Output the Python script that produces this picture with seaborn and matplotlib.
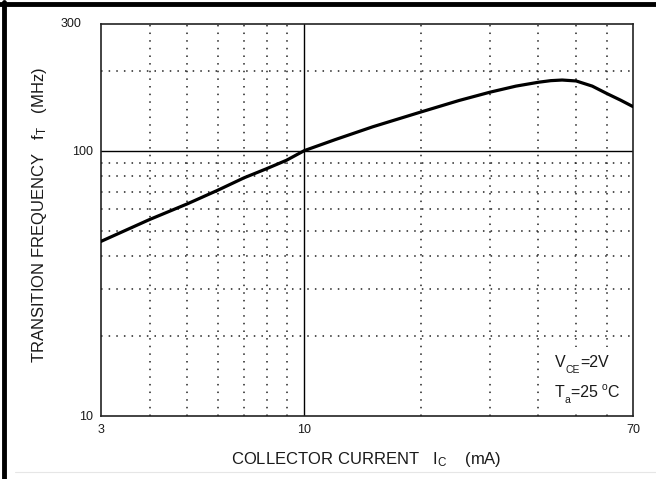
import matplotlib
matplotlib.use("Agg")
import matplotlib.pyplot as plt
from matplotlib.lines import Line2D
from matplotlib.patches import Rectangle
import seaborn as sns
import pandas as pd

# Data
collector_current_mA = [3, 4, 5, 6, 7, 8, 9, 10, 12, 15, 20, 25, 30, 35, 40, 43, 46, 50, 55, 60, 65, 70]
transition_freq_MHz = [45.5, 55, 63, 71, 79, 85.5, 92, 100, 110, 123, 140, 154.5, 166, 175, 181, 183.5, 184.5, 183, 175, 164, 155, 146.5]

x_ticks = [3, 10, 70]
x_tick_labels = ["3", "10", "70"]
y_ticks = [10, 100]
y_tick_labels = ["10", "100"]
y_top_label = "300"
x_minor_grid = [4, 5, 6, 7, 8, 9, 20, 30, 40, 50, 60]
y_minor_grid = [20, 30, 40, 50, 60, 70, 80, 90, 200]

df = pd.DataFrame({"Ic": collector_current_mA, "fT": transition_freq_MHz})

sns.set_theme(style="white")
plt.rcParams["font.family"] = ["Liberation Sans", "DejaVu Sans"]
plt.rcParams["mathtext.fontset"] = "custom"
plt.rcParams["mathtext.rm"] = "Liberation Sans"
plt.rcParams["mathtext.it"] = "Liberation Sans"

TXT = "#1a1a1a"

fig = plt.figure(figsize=(6.56, 4.79), dpi=100)
ax = fig.add_axes([101 / 656, 1 - 416 / 479, 532 / 656, 392 / 479])

ax.set_xscale("log")
ax.set_yscale("log")
ax.set_xlim(3, 70)
ax.set_ylim(10, 300)

for xv in x_minor_grid:
    ax.axvline(xv, color="#222222", lw=1.1, ls=(0, (1, 4)), zorder=1)
for yv in y_minor_grid:
    ax.axhline(yv, color="#222222", lw=1.1, ls=(0, (1, 4)), zorder=1)
ax.axvline(10, color="black", lw=1.0, zorder=1)
ax.axhline(100, color="black", lw=1.0, zorder=1)

# white box behind the condition text (covers the grid there)
ax.add_patch(Rectangle((0.835, 0.009), 0.165, 0.168, transform=ax.transAxes,
                       facecolor="white", edgecolor="none", zorder=2))

sns.lineplot(data=df, x="Ic", y="fT", ax=ax, color="black", lw=2.3, zorder=3)

ax.set_xticks(x_ticks)
ax.set_xticklabels(x_tick_labels)
ax.set_yticks(y_ticks)
ax.set_yticklabels(y_tick_labels)
ax.minorticks_off()
ax.tick_params(axis="both", length=0, labelsize=9, colors=TXT)
ax.tick_params(axis="x", pad=6)
ax.tick_params(axis="y", pad=6)
ax.text(-0.036, 1.0, y_top_label, transform=ax.transAxes, ha="right", va="center",
        fontsize=9, color=TXT)

for s in ax.spines.values():
    s.set_color("#222222")
    s.set_linewidth(1.2)

ax.set_xlabel(r"COLLECTOR CURRENT   I$_\mathregular{C}$    (mA)", fontsize=12, color=TXT)
ax.set_ylabel(r"TRANSITION FREQUENCY   f$_\mathregular{T}$   (MHz)", fontsize=12, color=TXT)
ax.xaxis.set_label_coords(0.498, -0.088)
ax.yaxis.set_label_coords(-0.098, 0.513)

FS = 11.5
SFS = 7.5


def chain(prev, base, s, fs, dy=0.0, dx=0.0, va="bottom", yfrac=0.0):
    return ax.annotate(s, xy=(1, yfrac), xycoords=(prev, base), xytext=(dx, dy),
                       textcoords="offset points", fontsize=fs, color=TXT, ha="left", va=va,
                       zorder=5)


# V_CE = 2V
v1 = ax.text(0.853, 0.125, "V", transform=ax.transAxes, fontsize=FS, color=TXT, ha="left",
             va="baseline", zorder=5)
v2 = chain(v1, v1, "CE", SFS, dy=-3.5, dx=0.3)
v3 = chain(v2, v1, "=2V", FS)

# T_a = 25 oC
t1 = ax.text(0.853, 0.049, "T", transform=ax.transAxes, fontsize=FS, color=TXT, ha="left",
             va="baseline", zorder=5)
t2 = chain(t1, t1, "a", SFS, dy=-3.5, dx=0.3)
t3 = chain(t2, t1, "=25 ", FS)
t4 = chain(t3, t1, "o", SFS, dy=2.0, va="top", yfrac=1.0)
t5 = chain(t4, t1, "C", FS)

if ax.get_legend():
    ax.get_legend().remove()

# frame fragments of the scan
fig.add_artist(Line2D([0, 1], [1 - 4 / 479, 1 - 4 / 479], color="black", lw=3.5, transform=fig.transFigure))
fig.add_artist(Line2D([4 / 656, 4 / 656], [0, 1 - 2 / 479], color="black", lw=3.5, transform=fig.transFigure))
fig.add_artist(Line2D([15 / 656, 1], [1 - 472 / 479, 1 - 472 / 479], color="#e6e6e6", lw=0.8,
                      transform=fig.transFigure))

fig.savefig("out.png", dpi=100)
